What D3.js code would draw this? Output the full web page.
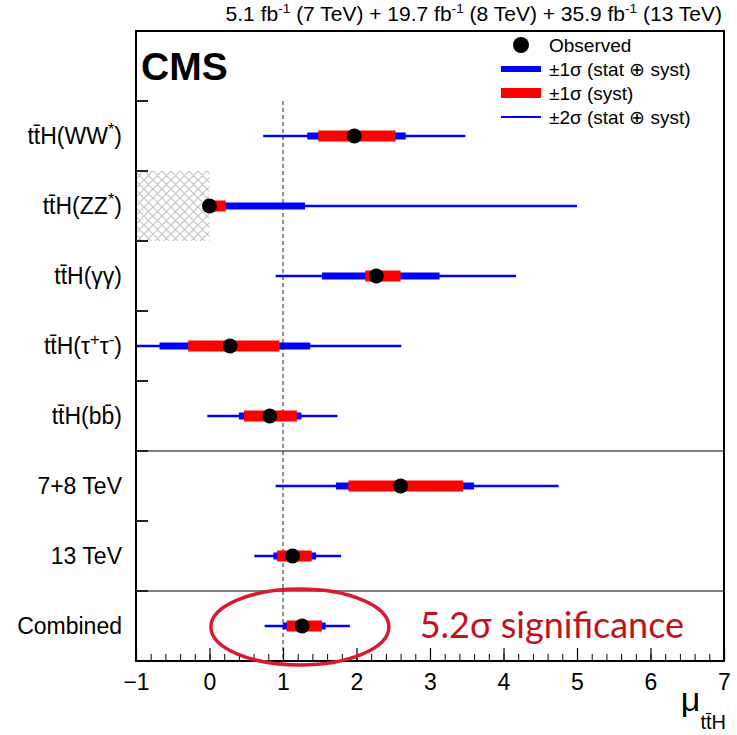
<!DOCTYPE html>
<html><head><meta charset="utf-8">
<script src="https://cdn.jsdelivr.net/npm/d3@7"></script>
<style>body{margin:0;background:#fff} svg{display:block}</style>
</head><body>
<svg id="c" width="737" height="735"></svg>
<script>
// ---- data ----
const categories = ["tt\u0304H(WW^{*})", "tt\u0304H(ZZ^{*})", "tt\u0304H(\u03b3\u03b3)", "tt\u0304H(\u03c4^{+}\u03c4^{-})", "tt\u0304H(bb\u0304)", "7+8 TeV", "13 TeV", "Combined"];
const observed = [1.97, 0.00, 2.27, 0.28, 0.82, 2.60, 1.13, 1.26];
const tot1Lo  = [1.33, 0.00, 1.53, -0.68, 0.40, 1.72, 0.87, 1.00];
const tot1Hi  = [2.67, 1.30, 3.13, 1.37, 1.25, 3.60, 1.45, 1.58];
const syst1Lo = [1.48, 0.00, 2.12, -0.29, 0.47, 1.89, 0.92, 1.05];
const syst1Hi = [2.53, 0.22, 2.60, 0.95, 1.19, 3.45, 1.39, 1.53];
const tot2Lo  = [0.73, 0.00, 0.90, -1.50, -0.03, 0.90, 0.61, 0.75];
const tot2Hi  = [3.48, 5.00, 4.17, 2.61, 1.74, 4.75, 1.79, 1.91];
const separatorsAfter = ["tt\u0304H(bb\u0304)", "13 TeV"];
const excludedRegion = {cat: "tt\u0304H(ZZ^{*})", from: -1, to: 0};
const xTicks = [-1, 0, 1, 2, 3, 4, 5, 6, 7];
const legendLabels = ["Observed", "\u00b11\u03c3 (stat \u2295 syst)", "\u00b11\u03c3 (syst)", "\u00b12\u03c3 (stat \u2295 syst)"];
const lumiText = ["5.1 fb^{-1} (7 TeV) + 19.7 fb^{-1} (8 TeV) + 35.9 fb^{-1} (13 TeV)"];
const significance = "5.2\u03c3 significance";

const rows = categories.map((c,i)=>({c, obs:observed[i], t1l:tot1Lo[i], t1h:tot1Hi[i], s1l:syst1Lo[i], s1h:syst1Hi[i], t2l:tot2Lo[i], t2h:tot2Hi[i]}));

// ---- layout ----
const FL = 136, FR = 724, FT = 31, FB = 661;
const FONT = "'Liberation Sans', Arial, Helvetica, sans-serif";
const svg = d3.select("#c");
const x = d3.scaleLinear().domain([-1, 7]).range([FL, FR]);
const y = d3.scaleBand().domain(["__legend__", ...categories]).range([FT, FB]);
const yc = c => y(c) + y.bandwidth()/2;

function richText(sel, str, supScale, baseSize) {
  const parts = str.split(/(\^\{[^}]*\})/).filter(s=>s.length);
  let raised = 0;
  parts.forEach(p => {
    const m = p.match(/^\^\{([^}]*)\}$/);
    if (m) {
      const up = 0.38*baseSize;
      sel.append("tspan").attr("font-size", (supScale*baseSize)+"px").attr("dy", -up).text(m[1]);
      raised = up;
    } else {
      const t = sel.append("tspan").text(p);
      if (raised) { t.attr("dy", raised); raised = 0; }
    }
  });
}

const defs = svg.append("defs");
defs.append("clipPath").attr("id","frame").append("rect")
  .attr("x",FL).attr("y",FT).attr("width",FR-FL).attr("height",FB-FT);
const pat = defs.append("pattern").attr("id","hatch").attr("patternUnits","userSpaceOnUse")
  .attr("width",9).attr("height",9);
pat.append("path").attr("d","M0,0 L9,9 M9,0 L0,9 M-1,8 L1,10 M8,-1 L10,1 M-1,1 L1,-1 M8,10 L10,8")
  .attr("stroke","#c4c4c4").attr("stroke-width",1.2);

const plot = svg.append("g").attr("clip-path","url(#frame)");

// excluded region
plot.append("rect")
  .attr("x", x(excludedRegion.from)).attr("width", x(excludedRegion.to)-x(excludedRegion.from))
  .attr("y", y(excludedRegion.cat)).attr("height", y.bandwidth())
  .attr("fill","url(#hatch)");

// SM reference line
plot.append("line")
  .attr("x1", x(1)).attr("x2", x(1)).attr("y1", y(categories[0])).attr("y2", FB)
  .attr("stroke","#555").attr("stroke-width",1.3).attr("stroke-dasharray","4,3");

// separators
separatorsAfter.forEach(c => {
  plot.append("line").attr("x1",FL).attr("x2",FR)
    .attr("y1", y(c)+y.bandwidth()).attr("y2", y(c)+y.bandwidth())
    .attr("stroke","#000").attr("stroke-width",1);
});

const g = plot.selectAll("g.row").data(rows).join("g").attr("class","row");
g.append("line").attr("x1",d=>x(d.t2l)).attr("x2",d=>x(d.t2h)).attr("y1",d=>yc(d.c)).attr("y2",d=>yc(d.c))
  .attr("stroke","#0000ff").attr("stroke-width",2.6);
g.append("rect").attr("x",d=>x(d.t1l)).attr("width",d=>x(d.t1h)-x(d.t1l)).attr("y",d=>yc(d.c)-3.5).attr("height",7)
  .attr("fill","#0000ff");
g.append("rect").attr("x",d=>x(d.s1l)).attr("width",d=>x(d.s1h)-x(d.s1l)).attr("y",d=>yc(d.c)-5.5).attr("height",11)
  .attr("fill","#ff0000");
g.append("circle").attr("cx",d=>x(d.obs)).attr("cy",d=>yc(d.c)).attr("r",7.5).attr("fill","#000");

// frame
svg.append("rect").attr("x",FL).attr("y",FT).attr("width",FR-FL).attr("height",FB-FT)
  .attr("fill","none").attr("stroke","#000").attr("stroke-width",2);

// left ticks (row boundaries)
svg.selectAll("line.ltick").data(categories).join("line").attr("class","ltick")
  .attr("x1",FL).attr("x2",FL+12).attr("y1",d=>y(d)).attr("y2",d=>y(d))
  .attr("stroke","#222").attr("stroke-width",2);

// bottom axis with inward ticks
const minor = d3.range(-1, 7.0001, 0.2).map(v=>+v.toFixed(2));
svg.append("g").attr("transform",`translate(0,${FB})`)
  .call(d3.axisBottom(x).tickValues(minor).tickSize(-7).tickFormat(""))
  .call(a=>{a.select(".domain").remove(); a.selectAll("line").attr("stroke","#000").attr("stroke-width",1);});
svg.append("g").attr("transform",`translate(0,${FB})`)
  .call(d3.axisBottom(x).tickValues(xTicks).tickSize(-13).tickPadding(13).tickFormat(d3.format("d")))
  .call(a=>{a.select(".domain").remove(); a.selectAll("line").attr("stroke","#000").attr("stroke-width",1.2);
    a.selectAll("text").attr("font-family",FONT).attr("font-size",23).attr("fill","#000").attr("dy","0.71em");});

// axis title
const xt = svg.append("text").attr("x", FR+2).attr("y", 711).attr("text-anchor","end")
  .attr("font-family",FONT).attr("fill","#000");
xt.append("tspan").attr("font-size",34).text("\u03bc");
xt.append("tspan").attr("font-size",20).attr("dy",18).text("tt\u0304H");

// category labels
svg.selectAll("text.cat").data(categories).join("text").attr("class","cat")
  .attr("x", 122).attr("y", d=>yc(d)+8).attr("text-anchor","end")
  .attr("font-family",FONT).attr("font-size",23).attr("fill","#000")
  .each(function(d){ richText(d3.select(this), d, 0.72, 23); });

// header lumi
svg.append("text").attr("x", 722).attr("y", 21).attr("text-anchor","end")
  .attr("font-family",FONT).attr("font-size",21).attr("fill","#000")
  .each(function(){ richText(d3.select(this), lumiText[0], 0.65, 21); });

// CMS
svg.append("text").attr("x", 141).attr("y", 80).attr("font-family",FONT).attr("font-weight","bold")
  .attr("font-size",39).attr("fill","#000").text("CMS");

// legend
const lg = svg.append("g").attr("font-family",FONT).attr("font-size",19).attr("fill","#000");
const ly = [45, 69, 93, 117];
lg.append("circle").attr("cx",521).attr("cy",ly[0]).attr("r",8).attr("fill","#000");
lg.append("line").attr("x1",501).attr("x2",541).attr("y1",ly[1]).attr("y2",ly[1]).attr("stroke","#0000ff").attr("stroke-width",6);
lg.append("line").attr("x1",501).attr("x2",541).attr("y1",ly[2]).attr("y2",ly[2]).attr("stroke","#ff0000").attr("stroke-width",10);
lg.append("line").attr("x1",501).attr("x2",541).attr("y1",ly[3]).attr("y2",ly[3]).attr("stroke","#0000ff").attr("stroke-width",2.2);
lg.selectAll("text").data(legendLabels).join("text").attr("x",549).attr("y",(d,i)=>ly[i]+7).text(d=>d);

// annotation
const last = categories[categories.length-1];
svg.append("ellipse").attr("cx", x(1.23)).attr("cy", yc(last)+1).attr("rx", 89).attr("ry", 38)
  .attr("fill","none").attr("stroke","#dc1a2e").attr("stroke-width",3.5);
svg.append("text").attr("x", x(2.86)).attr("y", yc(last)+12)
  .attr("font-family","Lato, 'Open Sans', sans-serif").attr("font-size",36).attr("fill","#c4101c")
  .text(significance);
</script>
</body></html>
